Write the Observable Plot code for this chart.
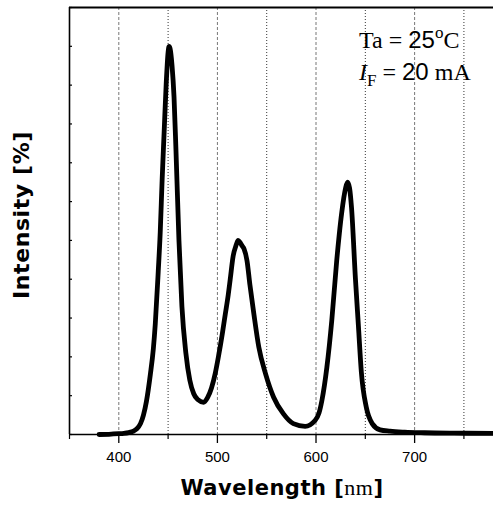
<!DOCTYPE html>
<html><head><meta charset="utf-8">
<script src="https://cdn.jsdelivr.net/npm/d3@7"></script>
<script src="https://cdn.jsdelivr.net/npm/@observablehq/plot@0.6"></script>
<style>body{margin:0;background:#fff} svg{display:block}</style>
</head><body><div id="chart"></div>
<script>
const wavelength = [380,390,400,405,410,415,418,422,425,428,432,435,437,440,442,444,446,448,450,451,452,454,456,458,461,464,468,472,476,480,486,490,494,498,501,505,508,511,513,516,519,521,523,525,527,530,533,537,542,549,557,567,577,589,599,603,606,611,616,621,626,630,632,634,636,640,643,646,651,657,665,675,690,710,740,780];
const intensity = [0,0.05,0.2,0.3,0.5,0.9,1.4,2.8,5,8.5,15.5,22,28.5,42,52,66,78,90,98.5,100,99.4,95,87,73,50,33,21,14,10.5,9,8.3,9.5,12,16,20,26,31,36,40,46,48.8,50,49.5,48.6,47.8,44.8,38.5,31,22.5,15.5,9.6,5.3,2.8,2.1,3.6,5.5,8.8,17.3,29.4,44.8,57,63.5,65,63.5,58.5,40,28,16,7,2.8,1.2,0.85,0.6,0.45,0.35,0.3];
const majorTicks = [400,500,600,700];
const minorTicks = [350,450,550,650,750];
const yTicks = [0,10,20,30,40,50,60,70,80,90,100,110];
const xTitle = ["Wavelength ", "[", "nm", "]"];
const yTitle = "Intensity [%]";

const data = wavelength.map((w, i) => ({w, v: intensity[i]}));

const plot = Plot.plot({
  width: 493, height: 506,
  marginLeft: 69, marginRight: 0, marginTop: 7, marginBottom: 72,
  x: {domain: [350, 780]},
  y: {domain: [0, 110]},
  style: {background: "#fff", overflow: "visible"},
  marks: [
    Plot.ruleX(majorTicks, {stroke: "#777", strokeDasharray: "3,2", strokeWidth: 1}),
    Plot.ruleX(minorTicks.filter(d => d > 350), {stroke: "#000", strokeDasharray: "1,2", strokeWidth: 0.8}),
    Plot.axisX(majorTicks, {tickSize: 9, tickPadding: 8, fontSize: 15, fontFamily: "Liberation Sans", label: null, strokeWidth: 1.3, color: "#000"}),
    Plot.axisX(minorTicks, {tickSize: 5, tickFormat: () => "", label: null, strokeWidth: 1.2}),
    Plot.axisY(yTicks, {tickSize: -3, tickFormat: () => "", label: null, strokeWidth: 1.2}),
    Plot.ruleY([0], {strokeWidth: 1.6}),
    Plot.ruleY([110], {strokeWidth: 1.8}),
    Plot.ruleX([350], {strokeWidth: 1.6}),
    Plot.line(data, {x: "w", y: "v", strokeWidth: 4.8, curve: "monotone-x", stroke: "#000"})
  ]
});
document.getElementById("chart").append(plot);

const svg = d3.select(plot);

// x title
const xt = svg.append("text").attr("x", 282).attr("y", 495).attr("text-anchor", "middle")
  .attr("font-size", 21).attr("letter-spacing", 0.5).attr("fill", "#000");
xt.append("tspan").attr("font-family", "DejaVu Sans").attr("font-weight", "bold").text(xTitle[0]);
xt.append("tspan").attr("font-family", "DejaVu Sans").attr("font-weight", "bold").text(xTitle[1]);
xt.append("tspan").attr("font-family", "Liberation Serif").attr("font-size", 22).text(xTitle[2]);
xt.append("tspan").attr("font-family", "DejaVu Sans").attr("font-weight", "bold").text(xTitle[3]);

// y title
svg.append("text").attr("transform", `translate(29,215) rotate(-90)`).attr("text-anchor", "middle")
  .attr("font-family", "DejaVu Sans").attr("font-weight", "bold").attr("font-size", 22)
  .attr("letter-spacing", 0.6).attr("fill", "#000")
  .text(yTitle);

// annotation
const ax = 359;
const l1 = svg.append("text").attr("x", ax).attr("y", 48).attr("text-anchor", "start").attr("font-size", 24).attr("fill", "#000").attr("font-family", "Liberation Serif");
l1.append("tspan").text("Ta = ");
l1.append("tspan").attr("font-family", "Liberation Sans").text("25");
l1.append("tspan").attr("font-size", 17).attr("dy", -10).text("o");
l1.append("tspan").attr("dy", 10).text("C");
const l2 = svg.append("text").attr("x", ax).attr("y", 80).attr("text-anchor", "start").attr("font-size", 24).attr("fill", "#000").attr("font-family", "Liberation Serif");
l2.append("tspan").attr("font-style", "italic").text("I");
l2.append("tspan").attr("font-size", 17).attr("dy", 6).text("F");
l2.append("tspan").attr("dy", -6).text(" = ");
l2.append("tspan").attr("font-family", "Liberation Sans").text("20");
l2.append("tspan").text(" mA");
</script>
</body></html>
